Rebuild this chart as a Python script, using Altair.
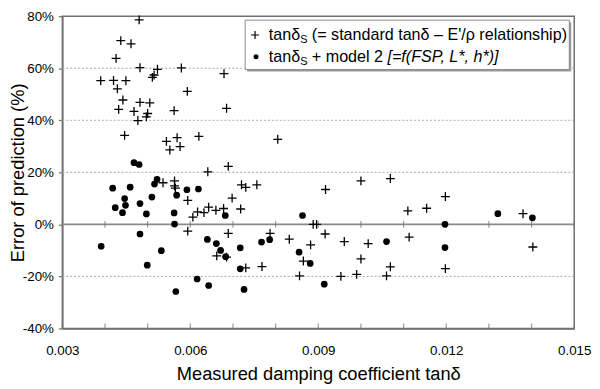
import altair as alt
import pandas as pd

# ---- data ----
std_x = [0.0048, 0.00437, 0.00461, 0.00426, 0.00482, 0.00523, 0.00579, 0.00679, 0.00515, 0.00511,
         0.0039, 0.0042, 0.00449, 0.00429, 0.00593, 0.00442, 0.00482, 0.00505, 0.00432, 0.00468,
         0.00562, 0.00685, 0.005, 0.00497, 0.00477, 0.00446, 0.00544, 0.00569, 0.00552, 0.00576,
         0.0062, 0.00805, 0.00641, 0.00689, 0.00536, 0.00563, 0.00563, 0.00565, 0.0072, 0.0073,
         0.00756, 0.00594, 0.00698, 0.00617, 0.00632, 0.00643, 0.0066, 0.00678, 0.00718, 0.00606,
         0.00594, 0.00689, 0.00662, 0.00685, 0.0073, 0.00768, 0.00787, 0.00832, 0.00888, 0.00896,
         0.00917, 0.00916, 0.00882, 0.00961, 0.01017, 0.01113, 0.0100, 0.00865, 0.01069, 0.01198,
         0.01403, 0.00856, 0.00953, 0.0099, 0.0106, 0.0111, 0.01154, 0.01198, 0.0138, 0.0100,
         0.01069]
std_y = [78.6, 70.6, 69.4, 63.8, 60.2, 59.6, 60.1, 57.9, 57.4, 56.5,
         55.2, 55.3, 55.2, 52.1, 51.1, 47.8, 46.9, 46.7, 44.2, 43.4,
         43.7, 44.6, 42.6, 41.3, 39.9, 34.2, 31.9, 33.3, 28.6, 29.9,
         33.8, 32.7, 20.2, 22.3, 16.0, 16.7, 14.8, 13.9, 15.2, 14.2,
         15.2, 9.2, 10.1, 4.8, 4.5, 6.6, 5.4, 6.1, 5.9, 2.8,
         -2.6, -3.5, -12.1, -12.6, -16.7, -16.2, -3.5, -5.7, 0.0, 0.0,
         13.4, -3.7, -7.9, -6.6, -7.4, -4.9, -13.3, -14.1, -16.3, -17.0,
         -8.7, -19.8, -20.0, -19.2, -19.8, 5.2, 6.2, 10.7, 4.1, 16.7,
         17.6]

m2_x = [0.00468, 0.0048, 0.00418, 0.00459, 0.00516, 0.00522, 0.00592, 0.00619, 0.00446, 0.0051,
        0.00568, 0.00424, 0.00448, 0.00482, 0.00441, 0.00497, 0.00562, 0.00682, 0.00563, 0.00391,
        0.00482, 0.00532, 0.00499, 0.0064, 0.00661, 0.00671, 0.00683, 0.00717, 0.00717, 0.00767,
        0.00786, 0.00616, 0.00643, 0.00566, 0.00726, 0.00863, 0.00855, 0.00881, 0.00914, 0.0106,
        0.01197, 0.01197, 0.01321, 0.01402]
m2_y = [23.7, 23.0, 13.9, 14.3, 15.5, 17.3, 13.3, 13.6, 9.9, 10.5,
        11.2, 6.4, 7.3, 8.0, 4.5, 4.0, 4.4, 3.4, 0.1, -8.4,
        -3.7, -10.1, -15.7, -5.8, -7.4, -10.0, -12.4, -9.0, -17.1, -6.8,
        -5.9, -21.0, -23.5, -25.8, -25.0, 3.4, -10.7, -15.0, -23.0, -6.6,
        0.0, -8.9, 4.1, 2.5]

x_minor_ticks = [0.003, 0.004, 0.005, 0.006, 0.007, 0.008, 0.009, 0.010, 0.011, 0.012, 0.013, 0.014, 0.015]
x_label_values = [0.003, 0.006, 0.009, 0.012, 0.015]
y_label_values = [-40, -20, 0, 20, 40, 60, 80]
dashed_grid = [-20, 20, 40, 60]

W, H = 518, 316
FONT = "Liberation Sans"
AX = "#707070"

xs = alt.Scale(domain=[0.003, 0.015], nice=False, zero=False, padding=0)
ys = alt.Scale(domain=[-40, 80], nice=False, zero=False, padding=0)

std = pd.DataFrame({"x": std_x, "y": std_y})
m2 = pd.DataFrame({"x": m2_x, "y": m2_y})
one = pd.DataFrame({"a": [0]})

x_axis = alt.Axis(values=x_label_values, format=".3f", ticks=False, grid=False, labelFlush=False,
                  labelPadding=15, titlePadding=8, domainColor=AX, domainWidth=1.5,
                  title="Measured damping coefficient tanδ")
y_axis = alt.Axis(values=y_label_values, labelExpr="datum.value + '%'", grid=False, labelFlush=False,
                  tickSize=4, tickColor=AX, tickWidth=1.2, domainColor=AX, domainWidth=1.5,
                  labelPadding=5, title="Error of prediction (%)", titleX=-35)


def X(f):
    return alt.X(f, scale=xs, axis=x_axis, title="Measured damping coefficient tanδ")


def Y(f):
    return alt.Y(f, scale=ys, axis=y_axis, title="Error of prediction (%)")


grid = alt.Chart(pd.DataFrame({"g": dashed_grid})).mark_rule(
    color="#a8a8a8", strokeWidth=1, strokeDash=[2, 2]
).encode(y=Y("g:Q"))

zero = alt.Chart(pd.DataFrame({"g": [0]})).mark_rule(color="#8a8a8a", strokeWidth=1.6).encode(
    y=Y("g:Q")
)

tick_df = pd.DataFrame({"x": x_minor_ticks, "z": [0] * len(x_minor_ticks), "b": [-40] * len(x_minor_ticks)})
zero_ticks = alt.Chart(tick_df).mark_tick(orient="vertical", size=7, thickness=1.2, color=AX).encode(
    x=X("x:Q"), y=Y("z:Q")
)
bottom_ticks = alt.Chart(tick_df).mark_tick(orient="vertical", size=5, thickness=1.2, color=AX, yOffset=-2.5).encode(
    x=X("x:Q"), y=Y("b:Q")
)

CROSS = "M-1,0L1,0M0,-1L0,1"
crosses = alt.Chart(std).mark_point(shape=CROSS, size=81, filled=False, stroke="black",
                                     strokeWidth=1.3, opacity=1).encode(
    x=X("x:Q"), y=Y("y:Q")
)
dots = alt.Chart(m2).mark_circle(size=46, color="black", opacity=1).encode(
    x=X("x:Q"), y=Y("y:Q")
)

# ---- legend (drawn by hand for the subscript and italic text) ----
BX0, BX1, BY0, BY1 = 185, 513, 4, 54
L1, L2 = 19, 41
TX = 209
shadow = alt.Chart(one).mark_rect(color="#9a9a9a").encode(
    x=alt.value(BX0 + 2), x2=alt.value(BX1 + 2), y=alt.value(BY0 + 2), y2=alt.value(BY1 + 2))
box = alt.Chart(one).mark_rect(fill="white", stroke="#8a8a8a", strokeWidth=1).encode(
    x=alt.value(BX0), x2=alt.value(BX1), y=alt.value(BY0), y2=alt.value(BY1))
leg_cross = alt.Chart(one).mark_point(shape=CROSS, size=64, filled=False, stroke="black",
                                      strokeWidth=1.2, opacity=1).encode(
    x=alt.value(195), y=alt.value(L1))
leg_dot = alt.Chart(one).mark_circle(size=26, color="black", opacity=1).encode(
    x=alt.value(196), y=alt.value(L2))


def txt(s, x, y, size=16.3, style="normal"):
    return alt.Chart(one).mark_text(align="left", baseline="middle", font=FONT, fontSize=size,
                                    fontStyle=style, color="black").encode(
        x=alt.value(x), y=alt.value(y), text=alt.value(s))


w_tan = 31.7
w_sub = 7.3
sp = 4.5
legend_texts = [
    txt("tanδ", TX, L1), txt("S", TX + w_tan, L1 + 5, size=11),
    txt("(= standard tanδ – E'/ρ relationship)", TX + w_tan + w_sub + sp, L1),
    txt("tanδ", TX, L2), txt("S", TX + w_tan, L2 + 5, size=11),
    txt("+ model 2", TX + w_tan + w_sub + sp, L2),
    txt("[=f(FSP, L*, h*)]", TX + w_tan + w_sub + sp + 72.0 + sp, L2, style="italic"),
]

chart = alt.layer(
    grid, zero, zero_ticks, bottom_ticks, crosses, dots,
    shadow, box, leg_cross, leg_dot, *legend_texts
).properties(
    width=W, height=H, autosize="none",
    padding={"left": 55, "top": 6, "right": 18, "bottom": 61}
).configure_view(
    stroke=AX, strokeWidth=1.5
).configure_axis(
    labelFont=FONT, labelFontSize=13.5, labelColor="black",
    titleFont=FONT, titleFontSize=18.5, titleFontWeight="normal", titleColor="black"
)

chart.save("out.html", embed_options={"renderer": "svg", "actions": False})
